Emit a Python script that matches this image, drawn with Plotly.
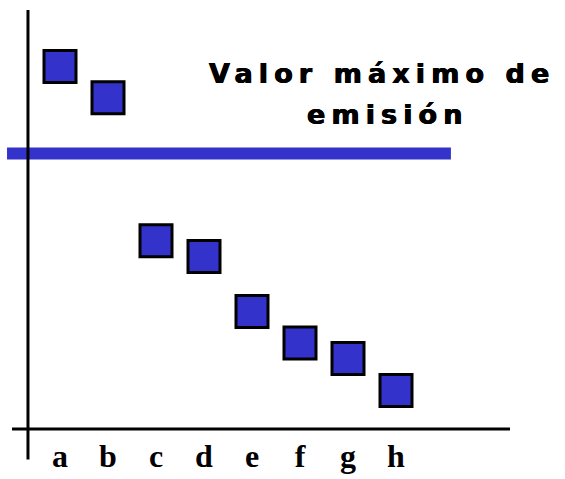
import plotly.graph_objects as go

categories = ["a", "b", "c", "d", "e", "f", "g", "h"]
emission = [8.55, 7.81, 4.44, 4.07, 2.77, 2.03, 1.66, 0.91]
max_emission = 6.50
label_line1 = "Valor máximo de"
label_line2 = "emisión"

BLUE = "#3333cc"

fig = go.Figure()
fig.add_trace(go.Scatter(
    x=categories, y=emission, mode="markers",
    marker=dict(symbol="square", size=32, color=BLUE,
                line=dict(color="black", width=3)),
    cliponaxis=False, showlegend=False, hoverinfo="skip",
))

# threshold line
fig.add_shape(type="line", xref="paper", yref="y",
              x0=0.004, x1=0.883, y0=max_emission, y1=max_emission,
              line=dict(color=BLUE, width=12), layer="below")
# axis lines
fig.add_shape(type="line", xref="paper", yref="paper",
              x0=0.0139, x1=1.0, y0=0, y1=0,
              line=dict(color="black", width=3))
fig.add_shape(type="line", xref="paper", yref="paper",
              x0=0.0455, x1=0.0455, y0=-0.072, y1=0.988,
              line=dict(color="black", width=3))

span = "<span style='letter-spacing:6.1px'>{}</span>"
title_font = dict(family="DejaVu Sans", size=27, color="black", weight="bold",
                  shadow="0.5px 0 0 black, -0.5px 0 0 black")
fig.add_annotation(text=span.format(label_line1), xref="paper", yref="paper",
                   x=0.7475, y=0.839, xanchor="center", yanchor="middle",
                   showarrow=False, font=title_font)
fig.add_annotation(text=span.format(label_line2), xref="paper", yref="paper",
                   x=0.759, y=0.741, xanchor="center", yanchor="middle",
                   showarrow=False, font=title_font)

fig.update_layout(
    width=565, height=479,
    margin=dict(l=5, r=55, t=5, b=45),
    paper_bgcolor="white", plot_bgcolor="white",
    xaxis=dict(type="category", range=[-1.1458, 9.375],
               showgrid=False, zeroline=False, showline=False, ticks="",
               tickfont=dict(family="Liberation Serif", size=32, color="black", weight="bold"),
               ticklabelstandoff=5),
    yaxis=dict(range=[0, 10], showgrid=False, zeroline=False, showline=False,
               showticklabels=False, ticks=""),
)

fig.write_html("out.html", config={"displayModeBar": False},
               post_script="document.body.style.margin='0';")
